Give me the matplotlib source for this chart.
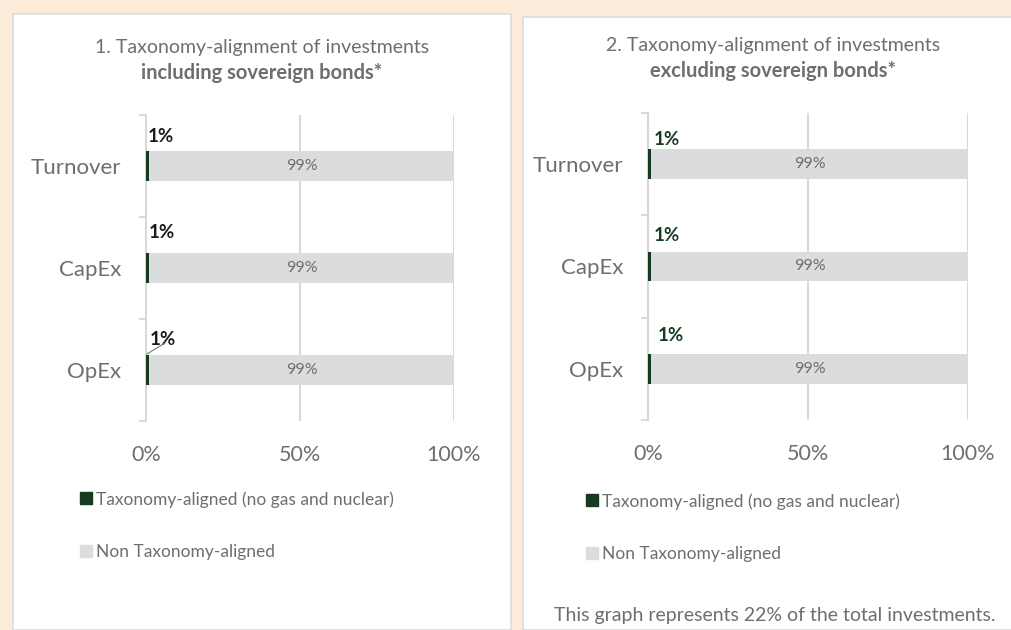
import matplotlib.pyplot as plt
from matplotlib.patches import Rectangle
from matplotlib.lines import Line2D

plt.rcParams['font.family'] = ['Lato', 'DejaVu Sans']

# data
categories = ["Turnover", "CapEx", "OpEx"]
aligned_incl = [1, 1, 1]
non_aligned_incl = [99, 99, 99]
aligned_excl = [1, 1, 1]
non_aligned_excl = [99, 99, 99]
xticks = [0, 50, 100]
xtick_labels = ["0%", "50%", "100%"]
legend_labels = ["Taxonomy-aligned (no gas and nuclear)", "Non Taxonomy-aligned"]

green = "#173B1E"
light = "#DBDCDD"
grid = "#D9D9D9"
text_grey = "#6E6E6E"
peach = "#FBEBD8"

W, H = 1011, 630
fig = plt.figure(figsize=(W / 100, H / 100), dpi=100)
fig.patch.set_facecolor(peach)

# white panels
fig.patches.append(Rectangle((13 / W, 0), 498 / W, 1 - 14 / H, transform=fig.transFigure,
                             facecolor="white", edgecolor="#DCDCDC", lw=1.2, zorder=-5))
fig.patches.append(Rectangle((523 / W, 0), 495 / W, 1 - 17 / H, transform=fig.transFigure,
                             facecolor="white", edgecolor="#DCDCDC", lw=1.2, zorder=-5))


def draw_panel(x0, x1, ytop, ybot, aligned, non_aligned, lab_color, lab_pos, leader):
    ax = fig.add_axes([x0 / W, 1 - ybot / H, (x1 - x0) / W, (ybot - ytop) / H])
    ax.set_zorder(2)
    ax.set_facecolor("none")
    y = list(range(len(categories)))
    ax.barh(y, aligned, height=0.29, color=green, zorder=3)
    ax.barh(y, non_aligned, left=aligned, height=0.29, color=light, zorder=3)
    ax.set_xlim(0, 100)
    ax.set_ylim(len(categories) - 0.5, -0.5)
    for xv in xticks[1:]:
        ax.axvline(xv, color=grid, lw=1.5, zorder=1)
    for sp in ax.spines.values():
        sp.set_visible(False)
    ax.spines['left'].set_visible(True)
    ax.spines['left'].set_color(grid)
    ax.spines['left'].set_linewidth(1.5)
    ax.set_xticks(xticks)
    ax.set_xticklabels(xtick_labels)
    ax.tick_params(axis='x', length=0, pad=17, labelsize=15.5, labelcolor=text_grey)
    ax.set_yticks([i - 0.5 for i in range(len(categories) + 1)], minor=False)
    ax.set_yticklabels([])
    ax.tick_params(axis='y', which='major', length=5, width=1.5, color=grid)
    ax.set_yticks(y, minor=True)
    ax.set_yticklabels(categories, minor=True)
    ax.tick_params(axis='y', which='minor', length=0, pad=18, labelsize=16, labelcolor=text_grey)
    for i in y:
        ax.text(aligned[i] + non_aligned[i] / 2, i, f"{non_aligned[i]}%",
                ha='center', va='center', fontsize=11.5, color=text_grey, zorder=4)
        dx, dy = lab_pos[i]
        ax.text(dx, i + dy, f"{aligned[i]}%", ha='left', va='baseline',
                fontsize=13.5, fontweight='bold', color=lab_color, zorder=4)
        if leader and i == len(y) - 1:
            ax.plot([0.3, 6.2], [i - 0.157, i - 0.265], color="#5E8A5E", lw=0.8, zorder=4)
    return ax


draw_panel(146, 454, 115, 421, aligned_incl, non_aligned_incl, "#1A1A1A",
           [(0.65, -0.235), (1.0, -0.29), (1.3, -0.245)], True)
draw_panel(648, 968, 113, 420, aligned_excl, non_aligned_excl, green,
           [(1.9, -0.19), (1.9, -0.245), (3.1, -0.27)], False)

# titles
fig.text(262 / W, 1 - 47 / H, "1. Taxonomy-alignment of investments", ha='center', va='center',
         fontsize=14, color=text_grey)
fig.text(262 / W, 1 - 73 / H, "including sovereign bonds*", ha='center', va='center',
         fontsize=14.5, color=text_grey, fontweight='bold')
fig.text(773 / W, 1 - 46 / H, "2. Taxonomy-alignment of investments", ha='center', va='center',
         fontsize=14, color=text_grey)
fig.text(773 / W, 1 - 71 / H, "excluding sovereign bonds*", ha='center', va='center',
         fontsize=14.5, color=text_grey, fontweight='bold')

# legends
handles = [Line2D([], [], marker='s', ls='none', markersize=8, color=green),
           Line2D([], [], marker='s', ls='none', markersize=8, color=light)]
for (lx, ly) in [(80, 491), (586, 493)]:
    leg = fig.legend(handles, legend_labels, loc='upper left',
                     bbox_to_anchor=(lx / W, 1 - ly / H), frameon=False,
                     handlelength=0.7, handletextpad=0.2, labelspacing=2.1,
                     fontsize=12.5, labelcolor=text_grey, borderaxespad=0, borderpad=0)

fig.text(775 / W, 1 - 616 / H, "This graph represents 22% of the total investments.",
         ha='center', va='center', fontsize=14, color=text_grey)

fig.savefig("out.png", dpi=100, facecolor=peach)
